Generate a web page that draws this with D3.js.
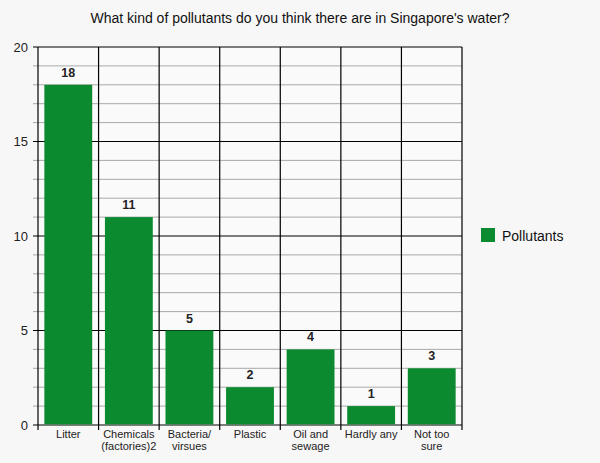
<!DOCTYPE html>
<html><head><meta charset="utf-8">
<script src="https://cdn.jsdelivr.net/npm/d3@7"></script>
<style>body{margin:0;background:#f8f7f7;}svg{display:block;font-family:"Liberation Sans",Arial,sans-serif;}</style>
</head><body>
<svg id="c" width="600" height="463"></svg>
<script>
const categories = [["Litter"],["Chemicals","(factories)2"],["Bacteria/","virsues"],["Plastic"],["Oil and","sewage"],["Hardly any"],["Not too","sure"]];
const values = [18, 11, 5, 2, 4, 1, 3];
const yTicks = [0, 5, 10, 15, 20];
const seriesName = "Pollutants";
const title = "What kind of pollutants do you think there are in Singapore's water?";

const svg = d3.select("#c");
const m = {l: 38, r: 138, t: 47, b: 38};
const W = 600, H = 463;
const x = d3.scaleBand().domain(d3.range(categories.length)).range([m.l, W - m.r]).paddingInner(0.21).paddingOuter(0.105);
const xb = d3.scaleLinear().domain([0, categories.length]).range([m.l, W - m.r]);
const y = d3.scaleLinear().domain([0, 20]).range([H - m.b, m.t]);
const green = "#0b8a2f";

svg.append("rect").attr("x", 0).attr("y", 0).attr("width", W).attr("height", H).attr("fill", "#f8f7f7");
svg.append("rect").attr("x", m.l).attr("y", m.t).attr("width", W - m.r - m.l).attr("height", H - m.b - m.t).attr("fill", "#fbfafa");

// minor gridlines
svg.append("g").selectAll("line").data(d3.range(0, 21).filter(v => v % 5 !== 0)).join("line")
  .attr("x1", m.l - 5).attr("x2", W - m.r).attr("y1", d => y(d)).attr("y2", d => y(d))
  .attr("stroke", "#a8a8a8").attr("stroke-width", 1);

// major gridlines
svg.append("g").selectAll("line").data(yTicks).join("line")
  .attr("x1", m.l - 5).attr("x2", W - m.r).attr("y1", d => y(d)).attr("y2", d => y(d))
  .attr("stroke", "#000").attr("stroke-width", 1.2);

// vertical separators
svg.append("g").selectAll("line").data(d3.range(categories.length + 1)).join("line")
  .attr("x1", d => xb(d)).attr("x2", d => xb(d)).attr("y1", m.t).attr("y2", y(0) + 5)
  .attr("stroke", "#000").attr("stroke-width", 1.2);

// bars
svg.append("g").selectAll("rect").data(values).join("rect")
  .attr("x", (d, i) => x(i)).attr("width", x.bandwidth())
  .attr("y", d => y(d)).attr("height", d => y(0) - y(d) - 0.6).attr("fill", green);

// y tick labels
const yAxis = d3.axisLeft(y).tickValues(yTicks).tickSize(0).tickPadding(10);
const ga = svg.append("g").attr("transform", `translate(${m.l},0)`).call(yAxis);
ga.select(".domain").remove();
ga.selectAll("text").attr("font-size", 13).attr("fill", "#222").attr("font-family", "Liberation Sans, Arial, sans-serif");

// value labels
svg.append("g").selectAll("text").data(values).join("text")
  .attr("x", (d, i) => x(i) + x.bandwidth() / 2).attr("y", d => y(d) - 8)
  .attr("text-anchor", "middle").attr("font-size", 12.5).attr("font-weight", "bold").attr("fill", "#222")
  .text(d => d);

// x labels
const xl = svg.append("g").selectAll("text").data(categories).join("text")
  .attr("x", (d, i) => x(i) + x.bandwidth() / 2).attr("y", y(0) + 12.5)
  .attr("text-anchor", "middle").attr("font-size", 11).attr("fill", "#222");
xl.selectAll("tspan").data(d => d).join("tspan")
  .attr("x", function() { return d3.select(this.parentNode).attr("x"); })
  .attr("dy", (d, i) => i === 0 ? 0 : 12).text(d => d);

// title
svg.append("text").attr("x", 300).attr("y", 23).attr("text-anchor", "middle")
  .attr("font-size", 14).attr("fill", "#111").text(title);

// legend
svg.append("rect").attr("x", 481).attr("y", 228).attr("width", 14).attr("height", 14).attr("fill", green);
svg.append("text").attr("x", 502).attr("y", 240.5).attr("font-size", 14).attr("fill", "#111").text(seriesName);
</script>
</body></html>
